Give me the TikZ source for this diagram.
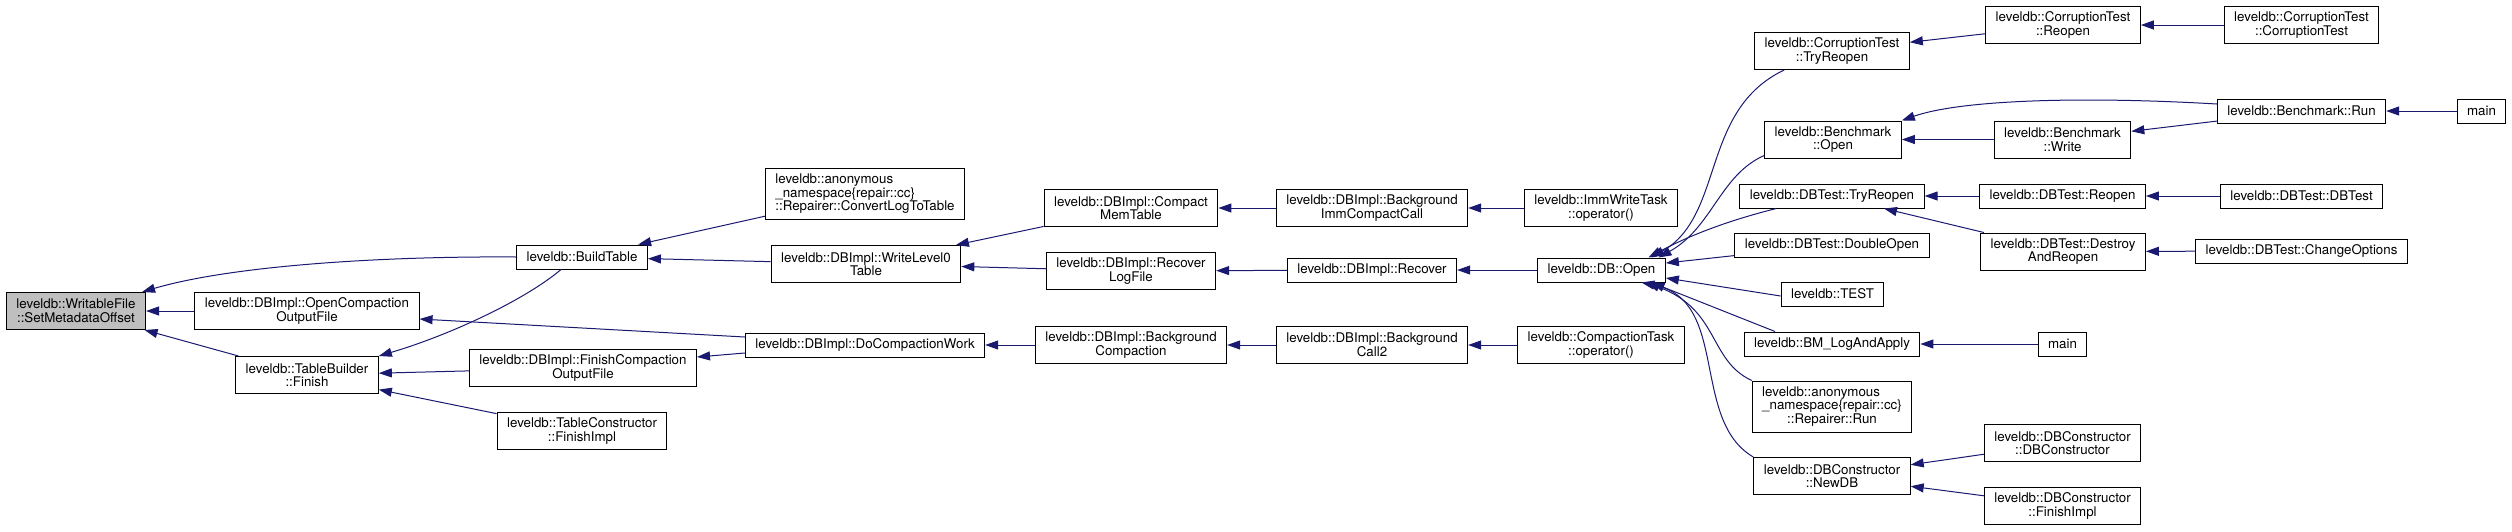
\documentclass[tikz,border=0pt]{standalone}
\usepackage{fontspec}
\setmainfont{TeX Gyre Heros}
\usepackage{calc}
\usetikzlibrary{arrows.meta}
\definecolor{midnightblue}{HTML}{191970}
\definecolor{grey75}{HTML}{BFBFBF}
\newcommand{\ctrline}[2]{\makebox[\widthof{#1}][c]{#2}}

\begin{document}
\begin{tikzpicture}[x=1pt,y=-1pt,
	fn/.style={draw=black,fill=white,line width=1pt,inner xsep=10pt,inner ysep=2pt,
		minimum height=24pt,align=center,font=\fontsize{13.33}{13.5}\selectfont},
	two/.style={minimum height=37pt},
	three/.style={minimum height=51pt,align=left},
	root/.style={fill=grey75},
	call/.style={draw=midnightblue,line width=1pt,-{Triangle[length=13pt,width=9pt]}}]
		\useasboundingbox (0,0) rectangle (2512,531);
		% column 0 and 1
		\node [fn,two,root] (wf) at (76,311) {leveldb::WritableFile\\::SetMetadataOffset};
		\node [fn] (buildtable) at (582,257) {leveldb::BuildTable};
		\node [fn,two] (opencompaction) at (307,311) {leveldb::DBImpl::OpenCompaction\\OutputFile};
		\node [fn,two] (tbfinish) at (307,375) {leveldb::TableBuilder\\::Finish};
		% column 2
		\node [fn,three] (convertlog) at (865,194) {leveldb::anonymous\\\_namespace\{repair::cc\}\\::Repairer::ConvertLogToTable};
		\node [fn,two] (writelevel0) at (866,264) {leveldb::DBImpl::WriteLevel0\\Table};
		\node [fn,two] (finishcompaction) at (583,368) {leveldb::DBImpl::FinishCompaction\\OutputFile};
		\node [fn,two] (tcfinishimpl) at (582,431) {leveldb::TableConstructor\\::FinishImpl};
		\node [fn] (docompaction) at (865,345) {leveldb::DBImpl::DoCompactionWork};
		% column 3 and 4
		\node [fn,two] (compactmem) at (1131,208) {leveldb::DBImpl::Compact\\MemTable};
		\node [fn,two] (recoverlog) at (1131,271) {leveldb::DBImpl::Recover\\LogFile};
		\node [fn,two] (bgcompaction) at (1131,345) {leveldb::DBImpl::Background\\Compaction};
		\node [fn,two] (bgimm) at (1372,208) {leveldb::DBImpl::Background\\ImmCompactCall};
		\node [fn] (recover) at (1372,270) {leveldb::DBImpl::Recover};
		\node [fn,two] (bgcall) at (1372,345) {leveldb::DBImpl::Background\\Call2};
		% column 5
		\node [fn,two] (immwrite) at (1601,208) {leveldb::ImmWriteTask\\::operator()};
		\node [fn] (dbopen) at (1601.5,270) {leveldb::DB::Open};
		\node [fn,two] (compactiontask) at (1601,345) {leveldb::CompactionTask\\::operator()};
		% column 6
		\node [fn,two] (cttryreopen) at (1832,51) {leveldb::CorruptionTest\\::TryReopen};
		\node [fn,two] (benchopen) at (1833,139.5) {leveldb::Benchmark\\::Open};
		\node [fn] (dbttryreopen) at (1832,196) {leveldb::DBTest::TryReopen};
		\node [fn] (doubleopen) at (1832,245) {leveldb::DBTest::DoubleOpen};
		\node [fn] (test) at (1832.5,294) {leveldb::TEST};
		\node [fn] (bmlog) at (1832,344) {leveldb::BM\_LogAndApply};
		\node [fn,three] (repairrun) at (1832,406.5) {leveldb::anonymous\\\_namespace\{repair::cc\}\\\ctrline{\_namespace\{repair::cc\}}{::Repairer::Run}};
		\node [fn,two] (newdb) at (1832,476) {leveldb::DBConstructor\\::NewDB};
		% column 7 and 8
		\node [fn,two] (ctreopen) at (2063,25) {leveldb::CorruptionTest\\::Reopen};
		\node [fn,two] (ctctor) at (2301.5,25) {leveldb::CorruptionTest\\::CorruptionTest};
		\node [fn] (benchrun) at (2301.5,111) {leveldb::Benchmark::Run};
		\node [fn] (mainrun) at (2481.5,111) {main};
		\node [fn,two] (benchwrite) at (2062.5,139.5) {leveldb::Benchmark\\::Write};
		\node [fn] (dbtreopen) at (2062.5,196) {leveldb::DBTest::Reopen};
		\node [fn] (dbtctor) at (2301.5,196) {leveldb::DBTest::DBTest};
		\node [fn,two] (destroy) at (2063,251.5) {leveldb::DBTest::Destroy\\AndReopen};
		\node [fn] (changeopts) at (2301.5,251) {leveldb::DBTest::ChangeOptions};
		\node [fn] (mainbm) at (2062.5,344) {main};
		\node [fn,two] (dbcctor) at (2062.5,443) {leveldb::DBConstructor\\::DBConstructor};
		\node [fn,two] (dbcfinish) at (2062.5,506) {leveldb::DBConstructor\\::FinishImpl};
		% calls into the left part
		\draw [call] (buildtable.west) .. controls (380,256) and (230,266) .. ([xshift=-4pt]wf.north east);
		\draw [call] (opencompaction) -- (wf);
		\draw [call] (tbfinish) -- (wf);
		\draw [call] ([xshift=-21pt]buildtable.south) .. controls (525,300) and (450,335) .. (tbfinish.north east);
		\draw [call] (finishcompaction) -- (tbfinish);
		\draw [call] (tcfinishimpl) -- (tbfinish);
		\draw [call] (convertlog) -- (buildtable);
		\draw [call] (writelevel0) -- (buildtable);
		\draw [call] ([yshift=8pt]docompaction.west) -- ([yshift=-8pt]opencompaction.east);
		\draw [call] ([yshift=-8pt]docompaction.west) -- ([yshift=11pt]finishcompaction.east);
		\draw [call] (compactmem) -- (writelevel0);
		\draw [call] (recoverlog) -- (writelevel0);
		\draw [call] (bgcompaction) -- (docompaction);
		\draw [call] (bgimm) -- (compactmem);
		\draw [call] (recover) -- (recoverlog);
		\draw [call] (bgcall) -- (bgcompaction);
		\draw [call] (immwrite) -- (bgimm);
		\draw [call] (dbopen) -- (recover);
		\draw [call] (compactiontask) -- (bgcall);
		% calls into DB::Open
		\draw [call] ([xshift=30pt]cttryreopen.south west) .. controls (1700,110) and (1725,215) .. ([xshift=50pt]dbopen.north);
		\draw [call] ([yshift=3pt]benchopen.south west) .. controls (1720,175) and (1712,228) .. ([xshift=57pt]dbopen.north);
		\draw [call] ([xshift=37pt]dbttryreopen.south west) .. controls (1730,220) and (1690,235) .. ([xshift=47pt]dbopen.north);
		\draw [call] (doubleopen) -- (dbopen);
		\draw [call] ([yshift=-2pt]test.west) -- ([yshift=-8pt]dbopen.east);
		\draw [call] ([xshift=-57pt]bmlog.north) -- ([xshift=50pt]dbopen.south);
		\draw [call] (repairrun.north west) .. controls (1708,360) and (1720,310) .. ([xshift=45pt]dbopen.south);
		\draw [call] (newdb.north west) .. controls (1690,420) and (1730,300) .. ([xshift=40pt]dbopen.south);
		% right part
		\draw [call] (ctreopen) -- (cttryreopen);
		\draw [call] (ctctor) -- (ctreopen);
		\draw [call] ([yshift=7pt]benchrun.west) .. controls (2080,96) and (1960,100) .. (benchopen.north east);
		\draw [call] (benchwrite) -- (benchopen);
		\draw [call] (benchrun) -- (benchwrite);
		\draw [call] (mainrun) -- (benchrun);
		\draw [call] (dbtreopen) -- (dbttryreopen);
		\draw [call] (destroy) -- (dbttryreopen);
		\draw [call] (dbtctor) -- (dbtreopen);
		\draw [call] (changeopts) -- (destroy);
		\draw [call] (mainbm) -- (bmlog);
		\draw [call] (dbcctor) -- (newdb);
		\draw [call] (dbcfinish) -- (newdb);
\end{tikzpicture}
\end{document}
